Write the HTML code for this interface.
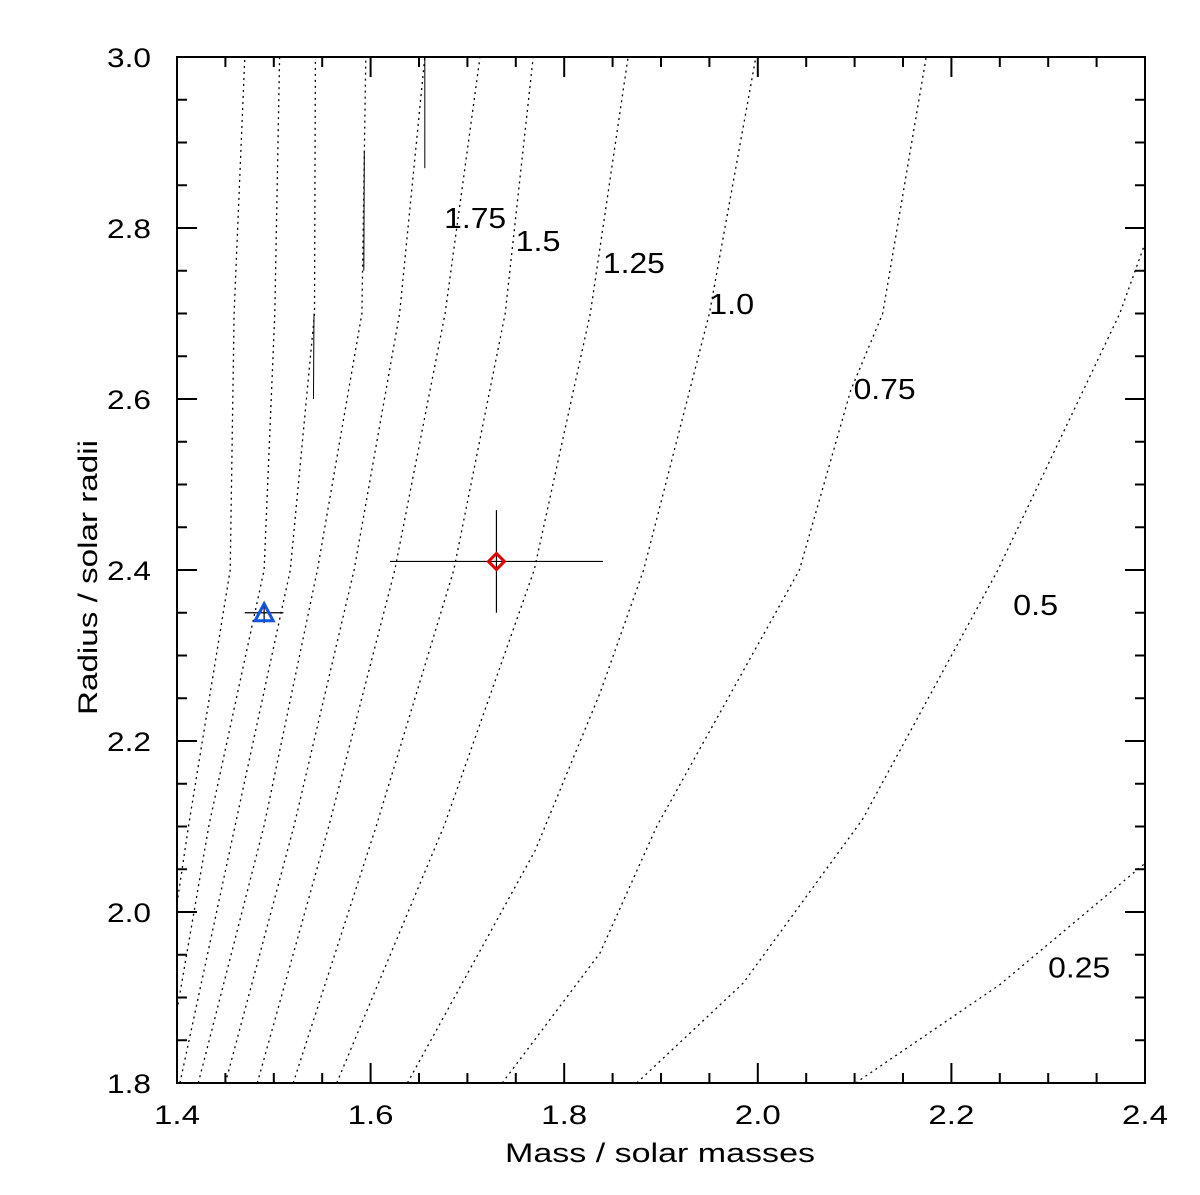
<!DOCTYPE html>
<html><head><meta charset="utf-8"><style>
html,body{margin:0;padding:0;background:#fff;}
svg{display:block;font-family:"Liberation Sans",sans-serif;}
</style></head><body>
<svg id="chart" width="1200" height="1195" viewBox="0 0 1200 1195" xmlns="http://www.w3.org/2000/svg">
<rect width="1200" height="1195" fill="#fff"/>
<g id="contours"></g>
<g id="labels"></g>
<g id="axes"></g>
<g id="points"></g>
<text x="505" y="1162" font-size="27" textLength="310" lengthAdjust="spacingAndGlyphs">Mass / solar masses</text>
<text x="0" y="0" font-size="27" textLength="275" lengthAdjust="spacingAndGlyphs" transform="translate(97,715) rotate(-90)">Radius / solar radii</text>
</svg>
<script>
// contour paths: mass values and radius values per contour
const contourLevels = ['c1','c2','c3','c4','c5','1.75','1.5','1.25','1.0','0.75','0.5','0.25'];
const c1M = [1.400,1.412,1.455,1.459,1.470]; const c1R = [2.010,2.101,2.400,2.700,3.000];
const c2M = [1.400,1.433,1.490,1.501,1.506]; const c2R = [1.885,2.101,2.400,2.700,3.000];
const c3M = [1.403,1.460,1.517,1.542,1.543]; const c3R = [1.800,2.101,2.400,2.700,3.000];
const c4M = [1.422,1.490,1.545,1.591,1.595]; const c4R = [1.800,2.101,2.400,2.700,3.000];
const c5M = [1.450,1.521,1.583,1.630,1.656]; const c5R = [1.800,2.101,2.400,2.700,3.000];
const l175M = [1.483,1.557,1.625,1.677,1.713]; const l175R = [1.800,2.101,2.400,2.700,3.000];
const l150M = [1.520,1.606,1.686,1.739,1.768]; const l150R = [1.800,2.101,2.400,2.700,3.000];
const l125M = [1.565,1.676,1.769,1.827,1.866]; const l125R = [1.800,2.101,2.400,2.700,3.000];
const l100M = [1.638,1.770,1.837,1.882,1.950,1.998]; const l100R = [1.800,2.072,2.256,2.400,2.700,3.000];
const l075M = [1.736,1.837,1.896,2.043,2.096,2.129,2.174]; const l075R = [1.800,1.952,2.101,2.400,2.610,2.700,3.000];
const l050M = [1.875,1.985,2.108,2.248,2.374,2.400]; const l050R = [1.800,1.917,2.108,2.400,2.700,2.782];
const l025M = [2.101,2.250,2.400]; const l025R = [1.800,1.915,2.057];
const contourM = [c1M,c2M,c3M,c4M,c5M,l175M,l150M,l125M,l100M,l075M,l050M,l025M];
const contourR = [c1R,c2R,c3R,c4R,c5R,l175R,l150R,l125R,l100R,l075R,l050R,l025R];
const labelText = ['1.75','1.5','1.25','1.0','0.75','0.5','0.25'];
const labelM = [1.708,1.773,1.872,1.973,2.131,2.287,2.332];
const labelR = [2.813,2.786,2.760,2.712,2.613,2.360,1.936];
const xTicks = [1.4,1.6,1.8,2.0,2.2,2.4];
const xTickLabels = ['1.4','1.6','1.8','2.0','2.2','2.4'];
const yTicks = [1.8,2.0,2.2,2.4,2.6,2.8,3.0];
const yTickLabels = ['1.8','2.0','2.2','2.4','2.6','2.8','3.0'];
const pointNames = ['triangle-star','diamond-star'];
const pointM = [1.49,1.73];
const pointR = [2.35,2.41];
const pointErrM = [0.02,0.11];
const pointErrR = [0.012,0.06];

const X0=177,X1=1145,Y0=1083,Y1=57;
function sx(m){return X0+(m-1.4)/(2.4-1.4)*(X1-X0);}
function sy(r){return Y0-(r-1.8)/(3.0-1.8)*(Y0-Y1);}
const NS='http://www.w3.org/2000/svg';
function mk(tag,attrs,parent){const e=document.createElementNS(NS,tag);for(const k in attrs)e.setAttribute(k,attrs[k]);parent.appendChild(e);return e;}

const gc=document.getElementById('contours');
contourM.forEach((ms,i)=>{
  const pts=ms.map((m,j)=>sx(m).toFixed(1)+','+sy(contourR[i][j]).toFixed(1)).join(' ');
  const p=mk('polyline',{points:pts,fill:'none',stroke:'#000','stroke-width':'1.3','stroke-dasharray':'2 4'},gc);
  
  
});
const s1=mk('line',{x1:sx(1.656),y1:sy(3.0),x2:sx(1.656),y2:sy(2.87),stroke:'#000','stroke-width':'1'},gc);


const s2=mk('line',{x1:sx(1.5935),y1:sy(2.89),x2:sx(1.593),y2:sy(2.75),stroke:'#000','stroke-width':'1'},gc);


const s3=mk('line',{x1:sx(1.5415),y1:sy(2.70),x2:sx(1.541),y2:sy(2.60),stroke:'#000','stroke-width':'1'},gc);



const gl=document.getElementById('labels');
labelText.forEach((t,i)=>{
  const w=t.length===4?62:45;
  const e=mk('text',{x:sx(labelM[i])-w/2,y:sy(labelR[i])+11,'font-size':'29',textLength:w,lengthAdjust:'spacingAndGlyphs',fill:'#000'},gl);
  e.textContent=t;
  
  
});

const ga=document.getElementById('axes');
const fr=mk('rect',{x:X0,y:Y1,width:X1-X0,height:Y0-Y1,fill:'none',stroke:'#000','stroke-width':'2'},ga);


for(let k=0;k<=20;k++){
  const m=1.4+k*0.05, x=sx(m), major=(k%4===0), L=major?20:10;
  const t1=mk('line',{x1:x,y1:Y0,x2:x,y2:Y0-L,stroke:'#000','stroke-width':'2'},ga);
  
  
  const t2=mk('line',{x1:x,y1:Y1,x2:x,y2:Y1+L,stroke:'#000','stroke-width':'2'},ga);
  
  
}
for(let k=0;k<=24;k++){
  const r=1.8+k*0.05, y=sy(r), major=(k%4===0), L=major?20:10;
  const t1=mk('line',{x1:X0,y1:y,x2:X0+L,y2:y,stroke:'#000','stroke-width':'2'},ga);
  
  
  const t2=mk('line',{x1:X1,y1:y,x2:X1-L,y2:y,stroke:'#000','stroke-width':'2'},ga);
  
  
}
xTicks.forEach((v,i)=>{
  const e=mk('text',{x:sx(v)-23,y:Y0+41,'font-size':'27',textLength:'46',lengthAdjust:'spacingAndGlyphs'},ga);
  e.textContent=xTickLabels[i];
  
  
});
yTicks.forEach((v,i)=>{
  const e=mk('text',{x:X0-70,y:sy(v)+10,'font-size':'27',textLength:'44',lengthAdjust:'spacingAndGlyphs'},ga);
  e.textContent=yTickLabels[i];
  
  
});

const gp=document.getElementById('points');
pointM.forEach((m,i)=>{
  const x=sx(m), y=sy(pointR[i]);
  const ex=mk('line',{x1:sx(m-pointErrM[i]),y1:y,x2:sx(m+pointErrM[i]),y2:y,stroke:'#000','stroke-width':'1.2'},gp);
  
  
  const ey=mk('line',{x1:x,y1:sy(pointR[i]+pointErrR[i]),x2:x,y2:sy(pointR[i]-pointErrR[i]),stroke:'#000','stroke-width':'1.2'},gp);
  
  
  let mark;
  if(i===0){
    mark=mk('polygon',{points:`${x},${y-9} ${x+9},${y+8} ${x-9},${y+8}`,fill:'none',stroke:'#1155dd','stroke-width':'3'},gp);
  } else {
    mark=mk('polygon',{points:`${x},${y-8} ${x+8},${y} ${x},${y+8} ${x-8},${y}`,fill:'none',stroke:'#e00000','stroke-width':'3'},gp);
  }
  
  
});
</script>
</body></html>
